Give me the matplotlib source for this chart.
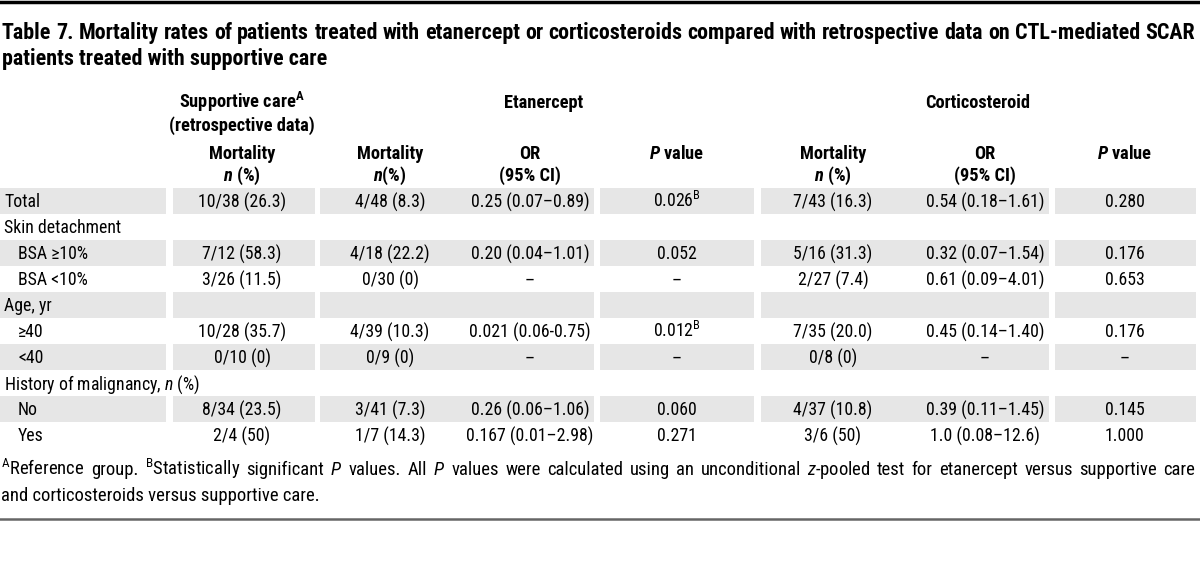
import matplotlib
matplotlib.use('Agg')
import matplotlib.pyplot as plt
import matplotlib.patches as mplpatches
from matplotlib import font_manager

# pick the narrowest sans we can find (reference uses a condensed face)
available = {f.name for f in font_manager.fontManager.ttflist}
fontName = 'DejaVu Sans'
for cand in ['Roboto Condensed', 'Liberation Sans Narrow', 'Noto Sans Condensed', 'Open Sans Condensed',
             'Arial Narrow', 'Roboto']:
    if cand in available:
        fontName = cand
        break

plt.rcParams['font.family'] = [fontName, 'DejaVu Sans']
plt.rcParams['mathtext.fontset'] = 'custom'
plt.rcParams['mathtext.rm'] = fontName
plt.rcParams['mathtext.it'] = fontName + ':italic'
plt.rcParams['mathtext.bf'] = fontName + ':bold'
plt.rcParams['mathtext.bfit'] = fontName + ':italic:bold'

titleLine1 = ('Table 7. Mortality rates of patients treated with etanercept or corticosteroids '
              'compared with retrospective data on CTL-mediated SCAR')
titleLine2 = 'patients treated with supportive care'

rowLabels = ['Total', 'Skin detachment', 'BSA \u226510%', 'BSA <10%', 'Age, yr', '\u226540', '<40',
             r'History of malignancy, $\mathit{n}$ (%)', 'No', 'Yes']
rowIndent = [0, 0, 1, 1, 0, 1, 1, 0, 1, 1]

supportive = ['10/38 (26.3)', '', '7/12 (58.3)', '3/26 (11.5)', '', '10/28 (35.7)', '0/10 (0)', '',
              '8/34 (23.5)', '2/4 (50)']
etanMort = ['4/48 (8.3)', '', '4/18 (22.2)', '0/30 (0)', '', '4/39 (10.3)', '0/9 (0)', '',
            '3/41 (7.3)', '1/7 (14.3)']
etanOR = ['0.25 (0.07\u20130.89)', '', '0.20 (0.04\u20131.01)', '\u2013', '', '0.021 (0.06-0.75)', '\u2013', '',
          '0.26 (0.06\u20131.06)', '0.167 (0.01\u20132.98)']
etanP = ['0.026', '', '0.052', '\u2013', '', '0.012', '\u2013', '', '0.060', '0.271']
etanSig = [True, False, False, False, False, True, False, False, False, False]
cortMort = ['7/43 (16.3)', '', '5/16 (31.3)', '2/27 (7.4)', '', '7/35 (20.0)', '0/8 (0)', '',
            '4/37 (10.8)', '3/6 (50)']
cortOR = ['0.54 (0.18\u20131.61)', '', '0.32 (0.07\u20131.54)', '0.61 (0.09\u20134.01)', '', '0.45 (0.14\u20131.40)',
          '\u2013', '', '0.39 (0.11\u20131.45)', '1.0 (0.08\u201312.6)']
cortP = ['0.280', '', '0.176', '0.653', '', '0.176', '\u2013', '', '0.145', '1.000']

footLine1 = (r'$^\mathrm{A}$Reference group. $^\mathrm{B}$Statistically significant $\mathit{P}$ values. '
             r'All $\mathit{P}$ values were calculated using an unconditional $\mathit{z}$-pooled test for '
             'etanercept versus supportive care')
footLine2 = 'and corticosteroids versus supportive care.'

figureWidth = 12
figureHeight = 5.67
fig = plt.figure(figsize=(figureWidth, figureHeight), dpi=100)
panel = plt.axes([0, 0, 1, 1])
panel.set_xlim(0, 1200)
panel.set_ylim(567, 0)
panel.axis('off')
renderer = fig.canvas.get_renderer()


def textWidth(s, size, weight='normal'):
    t = panel.text(0, 0, s, fontsize=size, fontweight=weight)
    w = t.get_window_extent(renderer).width
    t.remove()
    return w


def put(x, yc, s, size, weight='normal', ha='center'):
    # yc is the visual centre of the line; draw on the baseline so math bits line up
    panel.text(x, yc + 0.36 * size * 100 / 72, s, fontsize=size, fontweight=weight, ha=ha, va='baseline')


def justify(s, x0, x1, yc, size, weight='normal'):
    words = s.split(' ')
    widths = [textWidth(w, size, weight) for w in words]
    gap = (x1 - x0 - sum(widths)) / (len(words) - 1)
    x = x0
    for w, wd in zip(words, widths):
        put(x, yc, w, size, weight, ha='left')
        x += wd + gap


# sizes fitted to the widths measured on the reference (a bit larger: the reference face is narrower)
bodySize = 1.06 * 11 * 0.5 * (85 / textWidth('10/38 (26.3)', 11) + 108 / textWidth('Skin detachment', 11))
headSize = 1.04 * 11 * 140 / textWidth('(retrospective data)', 11, 'bold')
titleSize = 15 * 335 / textWidth(titleLine2, 15, 'bold')
titleSize = min(titleSize, 15 * 1190 / textWidth(titleLine1, 15, 'bold'))
footSize = 11 * 318 / textWidth(footLine2, 11)
footSize = min(footSize, 11 * 1185 / textWidth(footLine1, 11))
shade = '#e6e6e6'

# rules
panel.plot([0, 1200], [1.5, 1.5], color='black', lw=2.5)
panel.plot([0, 1200], [519, 519], color='#666666', lw=1.8)

justify(titleLine1, 2, 1195, 31, titleSize, 'bold')
put(2, 57, titleLine2, titleSize, 'bold', ha='left')

# column centres and shaded segments
colX = [242, 390, 530, 677, 833, 985, 1125]
segments = [(0, 166), (173, 315), (320, 594), (600, 754), (761, 1049), (1055, 1196)]

# header
put(242, 101, r'Supportive care$^\mathbf{A}$', headSize, 'bold')
put(242, 124, '(retrospective data)', headSize, 'bold')
put(544, 101, 'Etanercept', headSize, 'bold')
put(978, 101, 'Corticosteroid', headSize, 'bold')
sub1 = ['Mortality', 'Mortality', 'OR', None, 'Mortality', 'OR', None]
sub2 = [r'$\mathbfit{n}$ (%)', r'$\mathbfit{n}$(%)', '(95% CI)', None, r'$\mathbfit{n}$ (%)', '(95% CI)', None]
for x, a, b in zip(colX, sub1, sub2):
    if a is None:
        put(x, 152, r'$\mathbfit{P}$ value', headSize, 'bold')
    else:
        put(x, 152, a, headSize, 'bold')
        put(x, 174, b, headSize, 'bold')

# body
rowTop = 188
rowH = 26
columns = [supportive, etanMort, etanOR, etanP, cortMort, cortOR, cortP]
for i, lab in enumerate(rowLabels):
    yc = rowTop + rowH * i + rowH / 2
    if i % 2 == 0:
        for x0, x1 in segments:
            panel.add_patch(mplpatches.Rectangle((x0, rowTop + rowH * i), x1 - x0, rowH,
                                                 facecolor=shade, edgecolor='none', zorder=0))
    put(4 + 14 * rowIndent[i], yc, lab, bodySize, ha='left')
    for j, (x, col) in enumerate(zip(colX, columns)):
        s = col[i]
        if j == 3 and etanSig[i]:
            s = s + r'$^\mathrm{B}$'
        if s:
            put(x, yc, s, bodySize)

justify(footLine1, 1, 1195, 468, footSize)
put(1, 494, footLine2, footSize, ha='left')

plt.savefig('out.png', dpi=100)
